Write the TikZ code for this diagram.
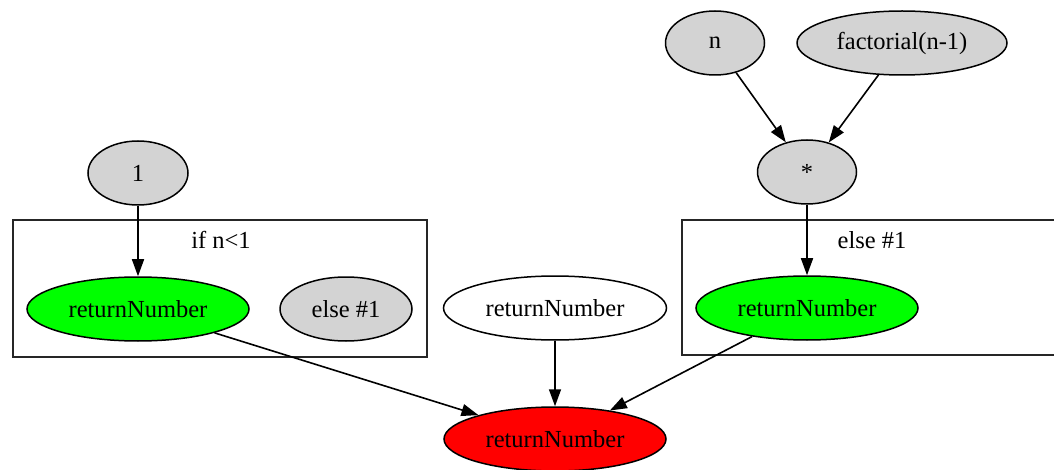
\documentclass[tikz,border=0pt]{standalone}
\usepackage{fontspec}
\setmainfont{Liberation Serif}
\usetikzlibrary{arrows.meta,shapes.geometric}
\definecolor{gvgray}{RGB}{211,211,211}
\definecolor{gvgreen}{RGB}{0,255,0}
\definecolor{gvred}{RGB}{255,0,0}
\tikzset{
  gvnode/.style={ellipse, draw=black, line width=1.5pt, inner sep=0pt, minimum height=64pt,
    font=\fontsize{24.5}{28}\selectfont},
  graynode/.style={gvnode, fill=gvgray},
  greennode/.style={gvnode, fill=gvgreen},
  rednode/.style={gvnode, fill=gvred},
  whitenode/.style={gvnode, fill=white},
  cluster/.style={draw=black!85, line width=1.6pt, inner sep=0pt},
  clabel/.style={inner sep=0pt, font=\fontsize{24.5}{28}\selectfont},
  edge/.style={draw=black, line width=1.6pt, -{Triangle[length=17pt,width=12pt]}}
}
\begin{document}
\begin{tikzpicture}[x=1pt,y=-1pt]
\clip (0,0) rectangle (1054,470);
\fill[white] (0,0) rectangle (1054,470);
% clusters
\node[cluster, minimum width=414pt, minimum height=137pt] (clusterL) at (220,288.5) {};
\node[cluster, minimum width=380pt, minimum height=135pt] (clusterR) at (872,287.5) {};
\node[clabel] (labL) at (221,240) {if n<1};
\node[clabel] (labR) at (872,240) {else \#1};
% nodes
\node[graynode, minimum width=99pt] (n) at (715,43) {n};
\node[graynode, minimum width=210pt] (fact) at (902,43) {factorial(n-1)};
\node[graynode, minimum width=99pt] (mul) at (807,172) {*};
\node[graynode, minimum width=100pt] (one) at (138,173) {1};
\node[greennode, minimum width=222pt] (retL) at (138,309) {returnNumber};
\node[graynode, minimum width=132pt] (elseL) at (346,309) {else \#1};
\node[whitenode, minimum width=223pt] (retM) at (555,308) {returnNumber};
\node[greennode, minimum width=222pt] (retR) at (807,308) {returnNumber};
\node[rednode, minimum width=222pt] (retB) at (555,439) {returnNumber};
% edges
\draw[edge] (n) -- (mul);
\draw[edge] (fact) -- (mul);
\draw[edge] (mul) -- (retR);
\draw[edge] (one) -- (retL);
\draw[edge] (retL) -- (retB);
\draw[edge] (retM) -- (retB);
\draw[edge] (retR) -- (retB);
\end{tikzpicture}
\end{document}
